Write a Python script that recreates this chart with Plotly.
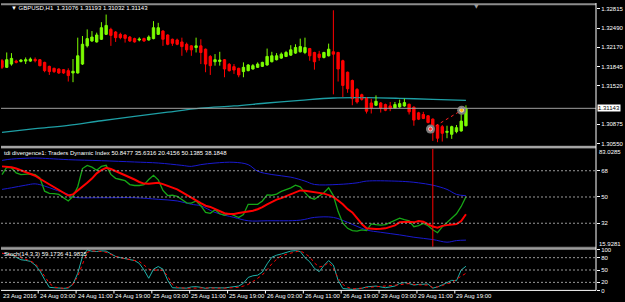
import plotly.graph_objects as go

# ---------------- data ----------------
TIME_LABELS = ["23 Aug 2016", "24 Aug 03:00", "24 Aug 11:00", "24 Aug 19:00", "25 Aug 03:00",
               "25 Aug 11:00", "25 Aug 19:00", "26 Aug 03:00", "26 Aug 11:00", "26 Aug 19:00",
               "29 Aug 03:00", "29 Aug 11:00", "29 Aug 19:00"]
TIME_LABEL_BARS = [0, 8, 16, 24, 32, 40, 48, 56, 64, 72, 80, 88, 96]

OPEN = [1.31944, 1.31833, 1.31888, 1.31938, 1.31933, 1.31938, 1.31938, 1.31966, 1.31961, 1.31916,
        1.31849, 1.31816, 1.31805, 1.31794, 1.31777, 1.31738, 1.31738, 1.31888, 1.32194, 1.32277,
        1.32260, 1.32305, 1.32388, 1.32471, 1.32427, 1.32388, 1.32377, 1.32343, 1.32316, 1.32293,
        1.32316, 1.32293, 1.32316, 1.32388, 1.32443, 1.32377, 1.32305, 1.32293, 1.32260, 1.32221,
        1.32194, 1.32166, 1.32194, 1.32138, 1.32016, 1.31927, 1.31933, 1.31961, 1.31883, 1.31844,
        1.31816, 1.31761, 1.31777, 1.31805, 1.31833, 1.31849, 1.31872, 1.31927, 1.31961, 1.31988,
        1.32016, 1.32038, 1.32072, 1.32094, 1.32083, 1.32149, 1.32083, 1.32055, 1.31999, 1.32027,
        1.32094, 1.32083, 1.31944, 1.31750, 1.31611, 1.31461, 1.31372, 1.31322, 1.31233, 1.31195,
        1.31233, 1.31206, 1.31183, 1.31150, 1.31167, 1.31183, 1.31211, 1.31161, 1.31067, 1.31039,
        1.31017, 1.30961, 1.30862, 1.30834, 1.30739, 1.30706, 1.30751, 1.30762, 1.30850]
HIGH = [1.31972, 1.32083, 1.32072, 1.31961, 1.31972, 1.31999, 1.31999, 1.31999, 1.31972, 1.31927,
        1.31861, 1.31827, 1.31816, 1.31805, 1.31816, 1.31972, 1.32332, 1.32360, 1.32471, 1.32443,
        1.32416, 1.32593, 1.32721, 1.32499, 1.32443, 1.32416, 1.32388, 1.32360, 1.32332, 1.32338,
        1.32332, 1.32371, 1.32610, 1.32582, 1.32460, 1.32388, 1.32316, 1.32316, 1.32332, 1.32249,
        1.32205, 1.32332, 1.32305, 1.32149, 1.32038, 1.32055, 1.32094, 1.31972, 1.31905, 1.31888,
        1.31827, 1.31916, 1.31888, 1.31888, 1.31916, 1.31927, 1.32149, 1.32094, 1.32072, 1.32083,
        1.32110, 1.32205, 1.32221, 1.32316, 1.32332, 1.32160, 1.32094, 1.32110, 1.32094, 1.32232,
        1.32793, 1.32094, 1.31961, 1.31761, 1.31627, 1.31483, 1.31389, 1.31333, 1.31306, 1.31361,
        1.31250, 1.31222, 1.31250, 1.31250, 1.31289, 1.31306, 1.31222, 1.31178, 1.31084, 1.31084,
        1.31028, 1.30973, 1.30873, 1.30862, 1.30850, 1.30850, 1.30862, 1.31056, 1.31193]
LOW = [1.31805, 1.31822, 1.31861, 1.31899, 1.31916, 1.31888, 1.31927, 1.31916, 1.31849, 1.31750,
       1.31705, 1.31738, 1.31722, 1.31722, 1.31594, 1.31583, 1.31727, 1.31872, 1.32166, 1.32260,
       1.32249, 1.32293, 1.32377, 1.32194, 1.32260, 1.32305, 1.32249, 1.32260, 1.32249, 1.32271,
       1.32260, 1.32282, 1.32305, 1.32377, 1.32194, 1.32205, 1.32194, 1.32205, 1.32027, 1.32083,
       1.32027, 1.32083, 1.31888, 1.31750, 1.31705, 1.31861, 1.31861, 1.31666, 1.31761, 1.31722,
       1.31666, 1.31666, 1.31766, 1.31794, 1.31822, 1.31838, 1.31861, 1.31916, 1.31949, 1.31977,
       1.32005, 1.32027, 1.32060, 1.32083, 1.32055, 1.31944, 1.31794, 1.31944, 1.31983, 1.32016,
       1.31378, 1.31594, 1.31333, 1.31405, 1.31195, 1.31222, 1.31272, 1.31056, 1.31056, 1.31183,
       1.31072, 1.31095, 1.31095, 1.31139, 1.31150, 1.31167, 1.31039, 1.30850, 1.30945, 1.30961,
       1.30889, 1.30595, 1.30573, 1.30584, 1.30640, 1.30629, 1.30723, 1.30751, 1.30839]
CLOSE = [1.31833, 1.31961, 1.31983, 1.31916, 1.31955, 1.31961, 1.31972, 1.31944, 1.31861, 1.31777,
         1.31761, 1.31761, 1.31738, 1.31738, 1.31694, 1.31766, 1.32027, 1.32221, 1.32316, 1.32343,
         1.32377, 1.32499, 1.32538, 1.32371, 1.32332, 1.32332, 1.32321, 1.32277, 1.32260, 1.32310,
         1.32277, 1.32343, 1.32499, 1.32499, 1.32305, 1.32221, 1.32238, 1.32221, 1.32182, 1.32127,
         1.32127, 1.32194, 1.32083, 1.31888, 1.31861, 1.31961, 1.31955, 1.31805, 1.31777, 1.31788,
         1.31705, 1.31833, 1.31872, 1.31861, 1.31888, 1.31916, 1.32016, 1.32027, 1.32027, 1.32055,
         1.32083, 1.32127, 1.32166, 1.32182, 1.32166, 1.32027, 1.31927, 1.31999, 1.32083, 1.32138,
         1.32055, 1.31805, 1.31528, 1.31472, 1.31306, 1.31250, 1.31294, 1.31095, 1.31150, 1.31261,
         1.31150, 1.31111, 1.31139, 1.31206, 1.31222, 1.31239, 1.31084, 1.30945, 1.30961, 1.30973,
         1.30906, 1.30739, 1.30640, 1.30723, 1.30756, 1.30834, 1.30817, 1.30928, 1.31143]

MA_BARS = [0, 7, 14, 21, 28, 35, 42, 49, 56, 63, 70, 77, 84, 91, 98]
MA_VALUES = [1.30739, 1.30800, 1.30856, 1.30934, 1.31006, 1.31078, 1.31145, 1.31183, 1.31233,
             1.31278, 1.31317, 1.31322, 1.31311, 1.31294, 1.31278]

BID = 1.31143
PRICE_TICKS = [1.32815, 1.32490, 1.32170, 1.31845, 1.31520, 1.30875, 1.30550]
SIGNAL_BARS = [90.5, 97.1]
SIGNAL_PRICES = [1.30795, 1.31111]
DIVERGENCE_BAR = 91

TDI_GREEN = [65.4, 70.4, 69.9, 66.5, 65.4, 65.6, 65.8, 65.4, 63.1, 54.0,
             52.5, 52.3, 51.8, 49.5, 47.3, 50.5, 57.0, 69.5, 71.7, 70.5,
             68.3, 71.0, 71.7, 65.5, 62.8, 62.0, 61.2, 58.5, 57.9, 57.9,
             58.5, 62.0, 64.9, 61.8, 54.5, 51.0, 51.2, 50.5, 48.5, 46.0,
             45.8, 47.3, 44.0, 39.5, 38.8, 41.2, 38.5, 37.5, 38.7, 37.5,
             35.9, 38.0, 45.0, 45.0, 45.0, 47.3, 51.5, 51.2, 52.0, 53.8,
             55.0, 56.3, 58.1, 57.0, 53.0, 49.5, 48.5, 51.0, 52.9, 56.3,
             51.0, 40.0, 32.0, 28.5, 26.9, 26.6, 27.5, 27.0, 31.5, 31.0,
             30.7, 31.0, 32.6, 33.7, 35.5, 34.5, 33.7, 29.6, 30.3, 31.9,
             30.3, 27.5, 25.5, 29.5, 32.5, 35.5, 38.5, 43.5, 50.1385]
TDI_RED = [71.0, 70.7, 70.4, 69.5, 68.4, 67.3, 66.2, 64.6, 62.5, 60.5,
           58.7, 57.0, 55.0, 52.8, 51.0, 51.8, 54.3, 57.0, 59.7, 62.6,
           66.2, 68.5, 70.0, 69.2, 67.8, 66.5, 65.0, 63.5, 62.0, 60.3,
           59.2, 59.0, 59.3, 59.7, 58.8, 57.7, 56.7, 55.2, 53.3, 51.6,
           49.8, 47.7, 45.8, 44.0, 43.2, 41.7, 40.4, 38.9, 38.4, 38.4,
           39.0, 39.5, 39.8, 40.6, 41.6, 43.0, 45.0, 46.8, 48.2, 49.2,
           50.4, 51.8, 53.3, 54.5, 54.3, 53.8, 53.4, 52.8, 52.3, 51.3,
           50.0, 47.6, 45.0, 41.7, 39.4, 35.5, 31.5, 28.5, 28.2, 28.0,
           28.2, 28.5, 29.5, 30.5, 32.6, 33.0, 33.0, 32.6, 33.5, 33.0,
           31.5, 29.7, 28.9, 30.2, 30.7, 31.0, 31.4, 33.5, 38.1848]
UPPER_BARS = [0, 2, 7, 10, 14, 21, 28, 33, 38, 40, 42, 45, 49, 52, 54, 57, 61, 64, 66, 71,
              75, 77, 83, 86, 88, 91, 94, 96, 98]
UPPER_BAND = [75.1, 76.0, 76.7, 76.3, 75.6, 74.9, 74.0, 73.3, 71.7, 71.0, 72.2, 73.3, 73.8, 72.2,
              67.7, 65.4, 63.6, 60.9, 58.6, 58.6, 59.7, 60.9, 60.9, 60.4, 59.7, 58.1, 55.2, 51.8,
              50.8477]
LOWER_BARS = [0, 2, 5, 7, 9, 11, 14, 15, 21, 28, 33, 37, 40, 42, 45, 49, 52, 56, 63, 66,
              70, 73, 77, 80, 84, 87, 91, 94, 96, 98]
LOWER_BAND = [55.2, 56.3, 58.1, 59.0, 57.5, 55.2, 51.8, 50.0, 49.5, 49.5, 48.4, 47.3, 45.0, 43.9,
              39.4, 36.0, 33.7, 33.7, 34.1, 36.0, 36.0, 32.6, 27.4, 25.8, 24.0, 22.4, 20.8, 19.0,
              20.1, 20.4156]
TDI_LEVELS = [68, 50, 32]
TDI_MIN, TDI_MAX = 15.9281, 83.0285

STOCH_MAIN = [90, 89.5, 87, 80, 75, 73.5, 71, 62, 48, 27,
              8, 7, 5.5, 5.5, 6.5, 16, 42, 83, 99, 95.5,
              95, 96.5, 96, 89.5, 83, 80, 77.5, 75, 73, 66,
              50, 30, 52, 58.5, 52, 25, 7, 6.5, 6, 6,
              9, 9.5, 8, 5.5, 7, 6.5, 5.5, 6.5, 8, 9,
              11, 18, 32, 36, 37.5, 45, 65, 81, 86, 89,
              92, 96, 97, 95, 80, 70, 54, 46, 61, 73,
              62, 25, 5, 3.5, 3, 4, 5.5, 9, 10.5, 11,
              9, 7, 9, 11, 17.5, 19.5, 17, 13.5, 15, 15.5,
              16, 6, 9, 14, 19, 25, 24, 50, 59.1736]
STOCH_SIGNAL = [91, 89.5, 87, 84, 80, 77.5, 72, 66, 52, 35,
                18, 8.5, 6.5, 5.5, 8, 15, 35, 65, 93, 96.5,
                96, 95, 93, 87, 83, 80, 78, 75, 73, 71,
                62, 52, 50, 49.5, 49.5, 35, 15, 8, 6.5, 5.5,
                6, 6.5, 7, 7, 6.5, 6, 5.5, 6, 6.5, 7.5,
                8, 11, 15, 22, 29, 38, 51, 65, 76, 84,
                88, 91.5, 93.5, 97, 90, 82, 67, 57.5, 60, 68,
                55, 30, 15, 8, 4, 4.5, 6, 7.5, 8.5, 9,
                9.5, 10.5, 11.5, 12, 14, 16, 17, 15, 13.5, 13.5,
                13.5, 7.5, 9, 12, 17, 19, 28, 36, 41.9835]
STOCH_LEVELS = [80, 50, 20]

HEADER_MAIN = "\u25bc GBPUSD,H1  1.31076 1.31193 1.31032 1.31143"
HEADER_TDI = "tdi divergence1: Traders Dynamic Index 50.8477 35.6316 20.4156 50.1385 38.1848"
HEADER_STOCH = "Stoch(14,3,3) 59.1736 41.9835"

# ---------------- styling / layout constants ----------------
W, H = 625, 302
ML, MR, MT, MB = 1, 27, 1, 11
PW, PH = W - ML - MR, H - MT - MB
FONT = "Liberation Sans"
UP_C, DN_C = "#7CFC00", "#FF0000"


def py(px):  # pixel row -> paper y
    return (H - MB - px) / PH


def pxx(px):  # pixel column -> paper x
    return (px - ML) / PW


BAR_PX = 4.75
X0_PX = 2.0
x_lo = (ML - X0_PX) / BAR_PX
x_hi = (ML + PW - X0_PX) / BAR_PX

fig = go.Figure()
n = len(OPEN)
idx = list(range(n))
up = [i for i in idx if CLOSE[i] >= OPEN[i]]
dn = [i for i in idx if CLOSE[i] < OPEN[i]]


def wicks(ids):
    xs, ys = [], []
    for i in ids:
        xs += [i, i, None]
        ys += [LOW[i], HIGH[i], None]
    return xs, ys


# moving average
fig.add_trace(go.Scatter(x=MA_BARS, y=MA_VALUES, mode="lines",
                         line=dict(color="#1E9FA5", width=1.3, shape="spline"),
                         xaxis="x", yaxis="y", hoverinfo="skip"))

for ids, col in ((up, UP_C), (dn, DN_C)):
    wx, wy = wicks(ids)
    fig.add_trace(go.Scatter(x=wx, y=wy, mode="lines", line=dict(color=col, width=1),
                             xaxis="x", yaxis="y", hoverinfo="skip"))
    fig.add_trace(go.Bar(x=ids,
                         base=[min(OPEN[i], CLOSE[i]) for i in ids],
                         y=[abs(CLOSE[i] - OPEN[i]) for i in ids],
                         width=0.5, marker=dict(color=col, line=dict(color=col, width=1)),
                         xaxis="x", yaxis="y", hoverinfo="skip"))

# divergence dotted line + signal circles
fig.add_trace(go.Scatter(x=SIGNAL_BARS, y=SIGNAL_PRICES, mode="lines",
                         line=dict(color="#FF2020", width=1, dash="dot"),
                         xaxis="x", yaxis="y", hoverinfo="skip"))
fig.add_trace(go.Scatter(x=SIGNAL_BARS, y=SIGNAL_PRICES, mode="markers",
                         marker=dict(size=9, color="#7A7A7A", line=dict(width=0)),
                         xaxis="x", yaxis="y", hoverinfo="skip"))
fig.add_trace(go.Scatter(x=SIGNAL_BARS, y=SIGNAL_PRICES, mode="markers",
                         marker=dict(size=4, color=["#FF3030", "#FFB000"],
                                     line=dict(color="#FFFFFF", width=0.6)),
                         xaxis="x", yaxis="y", hoverinfo="skip"))

# TDI panel
fig.add_trace(go.Scatter(x=UPPER_BARS, y=UPPER_BAND, mode="lines",
                         line=dict(color="#1A1AD0", width=1, shape="spline"),
                         xaxis="x", yaxis="y2", hoverinfo="skip"))
fig.add_trace(go.Scatter(x=LOWER_BARS, y=LOWER_BAND, mode="lines",
                         line=dict(color="#1A1AD0", width=1, shape="spline"),
                         xaxis="x", yaxis="y2", hoverinfo="skip"))
fig.add_trace(go.Scatter(x=idx, y=TDI_GREEN, mode="lines",
                         line=dict(color="#16A616", width=1.3),
                         xaxis="x", yaxis="y2", hoverinfo="skip"))
fig.add_trace(go.Scatter(x=idx, y=TDI_RED, mode="lines",
                         line=dict(color="#FF0000", width=2),
                         xaxis="x", yaxis="y2", hoverinfo="skip"))

# Stochastic panel
fig.add_trace(go.Scatter(x=idx, y=STOCH_MAIN, mode="lines",
                         line=dict(color="#20B2AA", width=1),
                         xaxis="x", yaxis="y3", hoverinfo="skip"))
fig.add_trace(go.Scatter(x=idx, y=STOCH_SIGNAL, mode="lines",
                         line=dict(color="#FF0000", width=1, dash="dot"),
                         xaxis="x", yaxis="y3", hoverinfo="skip"))

axis_font = dict(family=FONT, size=6, color="#FFFFFF")
common_y = dict(side="right", showgrid=False, zeroline=False, showline=False,
                ticks="outside", ticklen=3, tickcolor="#FFFFFF", tickwidth=1,
                tickfont=axis_font, fixedrange=True)

shapes = []
# bid line
shapes.append(dict(type="line", xref="paper", yref="y", x0=0, x1=1, y0=BID, y1=BID,
                   line=dict(color="#A0A0A0", width=1)))
# level lines
for lv in TDI_LEVELS:
    shapes.append(dict(type="line", xref="paper", yref="y2", x0=0, x1=1, y0=lv, y1=lv,
                       line=dict(color="#9A9A9A", width=1, dash="2px,2px")))
for lv in STOCH_LEVELS:
    shapes.append(dict(type="line", xref="paper", yref="y3", x0=0, x1=1, y0=lv, y1=lv,
                       line=dict(color="#9A9A9A", width=1, dash="2px,2px")))
# divergence vertical line in TDI window
shapes.append(dict(type="line", xref="x", yref="y2 domain", x0=DIVERGENCE_BAR, x1=DIVERGENCE_BAR,
                   y0=0, y1=1, line=dict(color="#FF0000", width=1)))
# window frames / separators
shapes.append(dict(type="line", xref="paper", yref="paper", x0=0, x1=1, y0=py(1.2), y1=py(1.2),
                   line=dict(color="#8C8C8C", width=2)))
shapes.append(dict(type="rect", xref="paper", yref="paper", x0=0, x1=1, y0=py(147), y1=py(144.3),
                   fillcolor="#808080", line=dict(width=0)))
shapes.append(dict(type="line", xref="paper", yref="paper", x0=0, x1=1, y0=py(145.5), y1=py(145.5),
                   line=dict(color="#C8C8C8", width=1)))
shapes.append(dict(type="rect", xref="paper", yref="paper", x0=0, x1=1, y0=py(248.3), y1=py(246.3),
                   fillcolor="#808080", line=dict(width=0)))
shapes.append(dict(type="line", xref="paper", yref="paper", x0=0, x1=1, y0=py(248.6), y1=py(248.6),
                   line=dict(color="#E0E0E0", width=1)))
shapes.append(dict(type="line", xref="paper", yref="paper", x0=0, x1=1, y0=py(290.4), y1=py(290.4),
                   line=dict(color="#FFFFFF", width=1)))
shapes.append(dict(type="line", xref="paper", yref="paper", x0=1, x1=1, y0=py(290.4), y1=py(0),
                   line=dict(color="#FFFFFF", width=1)))
# time ticks
for b in TIME_LABEL_BARS[1:]:
    shapes.append(dict(type="line", xref="x", yref="paper", x0=b - 0.35, x1=b - 0.35,
                       y0=py(290.4), y1=py(293.5), line=dict(color="#FFFFFF", width=1)))

annotations = []
for b, t in zip(TIME_LABEL_BARS, TIME_LABELS):
    # convert bar position to paper coordinates through the same bar scale as the x axis
    xp = (b - 0.45 - x_lo) / (x_hi - x_lo)
    annotations.append(dict(x=max(xp, 0.0), y=py(296), xref="paper", yref="paper", text=t,
                            showarrow=False, xanchor="left", yanchor="middle",
                            font=axis_font))
annotations.append(dict(x=pxx(9), y=py(5.5), xref="paper", yref="paper", text=HEADER_MAIN,
                        showarrow=False, xanchor="left", yanchor="middle", font=axis_font))
annotations.append(dict(x=pxx(2), y=py(152), xref="paper", yref="paper", text=HEADER_TDI,
                        showarrow=False, xanchor="left", yanchor="middle", font=axis_font))
annotations.append(dict(x=pxx(2), y=py(254), xref="paper", yref="paper", text=HEADER_STOCH,
                        showarrow=False, xanchor="left", yanchor="middle", font=axis_font))
annotations.append(dict(x=pxx(478), y=py(2.5), xref="paper", yref="paper", text="\u25bc",
                        showarrow=False, xanchor="center", yanchor="middle",
                        font=dict(family="DejaVu Sans", size=6, color="#9A9A9A")))
# price box
annotations.append(dict(x=1, y=BID, xref="paper", yref="y", text=f"{BID:.5f}",
                        showarrow=False, xanchor="left", yanchor="middle", xshift=1,
                        bgcolor="#FFFFFF", borderpad=0,
                        font=dict(family=FONT, size=6, color="#000000")))
# TDI extremes
annotations.append(dict(x=1, y=py(150.5), xref="paper", yref="paper", text=f"{TDI_MAX:.4f}",
                        showarrow=False, xanchor="left", yanchor="middle", xshift=1,
                        font=axis_font))
annotations.append(dict(x=1, y=py(243.5), xref="paper", yref="paper", text=f"{TDI_MIN:.4f}",
                        showarrow=False, xanchor="left", yanchor="middle", xshift=1,
                        font=axis_font))

fig.update_layout(
    width=W, height=H,
    margin=dict(l=ML, r=MR, t=MT, b=MB, pad=0),
    paper_bgcolor="#000000", plot_bgcolor="#000000",
    showlegend=False, barmode="overlay",
    xaxis=dict(range=[x_lo, x_hi], visible=False, fixedrange=True, domain=[0, 1]),
    yaxis=dict(domain=[py(144), py(2)], range=[1.30517, 1.32882],
               tickvals=PRICE_TICKS, ticktext=[f"{v:.5f}" for v in PRICE_TICKS],
               anchor="x", **common_y),
    yaxis2=dict(domain=[py(246.2), py(147.35)], range=[TDI_MIN, TDI_MAX],
                tickvals=TDI_LEVELS, ticktext=[str(v) for v in TDI_LEVELS],
                anchor="x", **common_y),
    yaxis3=dict(domain=[py(290.6), py(249)], range=[0, 100],
                tickvals=[0, 20, 50, 80, 100], ticktext=["0", "20", "50", "80", "100"],
                anchor="x", **common_y),
    shapes=shapes, annotations=annotations,
)

fig.write_html("out.html")
